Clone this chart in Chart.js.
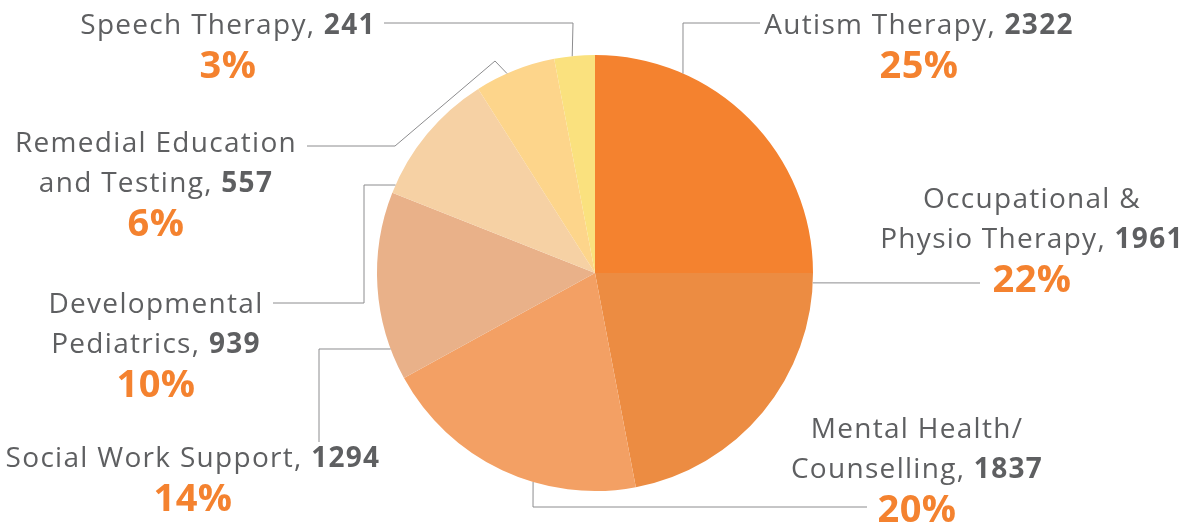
<!DOCTYPE html>
<html>
<head>
<meta charset="utf-8">
<script src="https://cdn.jsdelivr.net/npm/chart.js@4.4.1/dist/chart.umd.min.js"></script>
<style>
  html, body { margin: 0; padding: 0; background: #fff; }
  #wrap { width: 1186px; height: 523px; position: relative; }
</style>
</head>
<body>
<div id="wrap"><canvas id="pieChart"></canvas></div>
<script>
// datos del gráfico
const categories = [
    'Autism Therapy',
    'Occupational &\nPhysio Therapy',
    'Mental Health/\nCounselling',
    'Social Work Support',
    'Developmental\nPediatrics',
    'Remedial Education\nand Testing',
    'Speech Therapy'
];
const counts = [2322, 1961, 1837, 1294, 939, 557, 241];
const shares = [25, 22, 20, 14, 10, 6, 3]; // % mostrados en la imagen

const sliceColors = ['#F4822F', '#EC8C42', '#F3A064', '#E9B189', '#F6D1A4', '#FDD58B', '#FAE17E'];

// posición de cada etiqueta (centro x, y de la primera línea) y su línea guía
const labelLayout = [
    { x: 919,  y: 26,  leader: { angle: 23.8,  pts: [[683, 23], [760, 23]] } },
    { x: 1032, y: 200, leader: { angle: 92.6,  pts: [[980, 283]] } },
    { x: 917,  y: 430, leader: { angle: 196.5, pts: [[533, 507], [867, 507]] } },
    { x: 193,  y: 459, leader: { angle: 249.6, pts: [[319, 349], [319, 442]] } },
    { x: 156,  y: 305, leader: { angle: 293.8, pts: [[364, 185], [364, 303], [273, 303]] } },
    { x: 156,  y: 144, leader: { angle: 336.2, pts: [[495, 61], [395, 146], [307, 146]] } },
    { x: 228,  y: 26,  leader: { angle: 354,   pts: [[573, 23], [384, 23]] } }
];

const FONT = '"Open Sans", sans-serif';
const TEXT_COLOR = '#5E5F61';
const PCT_COLOR = '#F4822F';
const LINE_COLOR = '#8C8C8E';

const labelPlugin = {
    id: 'calloutLabels',
    afterDraw(chart) {
        const ctx = chart.ctx;
        const arcs = chart.getDatasetMeta(0).data;
        ctx.save();
        arcs.forEach((arc, i) => {
            const lay = labelLayout[i];
            // 1. línea guía
            const a = (lay.leader.angle - 90) * Math.PI / 180;
            const r = arc.outerRadius;
            ctx.beginPath();
            ctx.moveTo(arc.x + r * Math.cos(a), arc.y + r * Math.sin(a));
            lay.leader.pts.forEach(p => ctx.lineTo(p[0], p[1]));
            ctx.strokeStyle = LINE_COLOR;
            ctx.lineWidth = 1;
            ctx.stroke();

            // 2. texto (nombre + valor en negrita)
            const lines = categories[i].split('\n');
            ctx.textBaseline = 'middle';
            ctx.textAlign = 'left';
            ctx.letterSpacing = '1.3px';
            lines.forEach((txt, j) => {
                const last = j === lines.length - 1;
                const normal = last ? txt + ', ' : txt;
                const bold = last ? String(counts[i]) : '';
                ctx.font = '400 28px ' + FONT;
                const w1 = ctx.measureText(normal).width;
                ctx.font = '700 28px ' + FONT;
                const w2 = bold ? ctx.measureText(bold).width : 0;
                const x0 = lay.x - (w1 + w2) / 2;
                const yy = lay.y + j * 40;
                ctx.fillStyle = TEXT_COLOR;
                ctx.font = '400 28px ' + FONT;
                ctx.fillText(normal, x0, yy);
                if (bold) {
                    ctx.font = '700 28px ' + FONT;
                    ctx.fillText(bold, x0 + w1, yy);
                }
            });
            // 3. porcentaje
            ctx.letterSpacing = '0.5px';
            ctx.font = '700 38px ' + FONT;
            ctx.textAlign = 'center';
            ctx.fillStyle = PCT_COLOR;
            ctx.fillText(shares[i] + '%', lay.x, lay.y + lines.length * 40 + 1);
        });
        ctx.restore();
    }
};

new Chart(document.getElementById('pieChart'), {
    type: 'pie',
    data: {
        labels: categories,
        datasets: [{
            data: shares,
            backgroundColor: sliceColors,
            borderColor: sliceColors,
            borderWidth: 0
        }]
    },
    options: {
        responsive: true,
        maintainAspectRatio: false,
        animation: false,
        layout: { padding: { top: 55, bottom: 32, left: 4, right: 0 } },
        plugins: {
            legend: { display: false },
            tooltip: { enabled: false }
        }
    },
    plugins: [labelPlugin]
});
</script>
</body>
</html>
